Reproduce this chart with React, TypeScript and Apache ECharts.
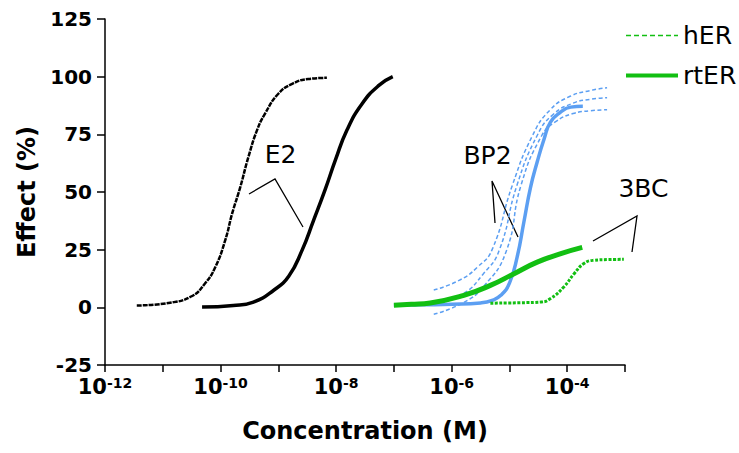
import React, { useEffect, useRef } from 'react';
import * as echarts from 'echarts';

// x values are log10 of the concentration (M); y values are effect (%)
const xMinExp = -12;
const xMaxExp = -3;
const yTicks = [-25, 0, 25, 50, 75, 100, 125];

const e2_hER: [number, number][] = [
  [-11.45, 0.8], [-10.9, 1.9], [-10.5, 4.8], [-10.27, 10.3], [-10.09, 17.5], [-9.92, 29],
  [-9.8, 40.6], [-9.66, 52], [-9.52, 65], [-9.37, 76.7], [-9.23, 84], [-9.0, 92.6],
  [-8.76, 96.9], [-8.48, 99], [-8.16, 99.5],
];
const e2_rtER: [number, number][] = [
  [-10.32, 0.1], [-9.78, 0.8], [-9.43, 2.3], [-9.08, 7.4], [-8.82, 13.5], [-8.59, 24.7],
  [-8.39, 37.7], [-8.19, 51], [-8.01, 64], [-7.81, 77], [-7.55, 88.3], [-7.26, 96.2], [-7.02, 100],
];
const bp2_hER_up: [number, number][] = [
  [-6.31, 7.5], [-5.87, 11.7], [-5.55, 17.5], [-5.3, 25], [-4.95, 52.9], [-4.6, 74.5],
  [-4.3, 85.5], [-3.95, 91.5], [-3.6, 94], [-3.31, 95.2],
];
const bp2_hER_mid: [number, number][] = [
  [-6.31, 1], [-5.8, 5.9], [-5.45, 14.6], [-5.18, 24.5], [-4.87, 52.9], [-4.52, 74.5],
  [-4.25, 83.5], [-3.9, 88.5], [-3.6, 90.2], [-3.31, 90.9],
];
const bp2_hER_low: [number, number][] = [
  [-6.31, -3], [-5.8, 2], [-5.45, 9], [-5.06, 24], [-4.8, 52.9], [-4.44, 74.5],
  [-4.2, 80.5], [-3.9, 84], [-3.6, 85.2], [-3.31, 85.7],
];
const bp2_rtER: [number, number][] = [
  [-7.0, 0.9], [-6.5, 1.1], [-6.0, 1.3], [-5.5, 1.9], [-5.3, 3.0], [-5.15, 5.2], [-5.0, 10.5],
  [-4.865, 22], [-4.75, 37], [-4.635, 52], [-4.52, 63], [-4.4, 73], [-4.29, 80.3], [-4.115, 84.6],
  [-3.94, 86.8], [-3.73, 87.2],
];
const bc3_rtER: [number, number][] = [
  [-7.0, 0.9], [-6.7, 1.3], [-6.37, 1.9], [-5.79, 5.2], [-5.33, 9.5], [-4.92, 14.6],
  [-4.52, 19.6], [-4.11, 23.3], [-3.74, 26],
];
const bc3_hER: [number, number][] = [
  [-5.33, 1.8], [-4.8, 2.0], [-4.45, 2.3], [-4.29, 3.8], [-4.06, 8.8], [-3.88, 14.6],
  [-3.71, 19], [-3.54, 20.4], [-3.3, 20.7], [-3.02, 20.8],
];

const FONT = 'DejaVu Sans, Liberation Sans, Arial, sans-serif';
const BLACK = '#000000';
const BLUE = '#5c9ff2';
const GREEN = '#12bf12';

function line(name: string, data: [number, number][], color: string, width: number, type: any) {
  return {
    type: 'line',
    name,
    data,
    smooth: 0.5,
    symbol: 'none',
    showSymbol: false,
    silent: true,
    lineStyle: { color, width, type, cap: 'butt', join: 'round' },
    itemStyle: { color },
  };
}

export default function App() {
  const ref = useRef<HTMLDivElement>(null);
  useEffect(() => {
    const chart = echarts.init(ref.current!, null, { renderer: 'svg' });
    chart.setOption({
      animation: false,
      backgroundColor: '#ffffff',
      grid: { left: 105, right: 114, top: 19, bottom: 88, containLabel: false },
      legend: {
        orient: 'vertical',
        left: 619,
        top: 18,
        itemWidth: 52,
        itemHeight: 14,
        itemGap: 15,
        selectedMode: false,
        textStyle: { fontSize: 25, fontFamily: FONT, color: BLACK },
        data: [
          { name: 'hER', itemStyle: { opacity: 0 }, lineStyle: { width: 1.5, type: [5, 3] } },
          { name: 'rtER', itemStyle: { opacity: 0 }, lineStyle: { width: 4, type: 'solid' } },
        ],
      },
      xAxis: {
        type: 'value',
        min: xMinExp,
        max: xMaxExp,
        interval: 1,
        name: 'Concentration (M)',
        nameLocation: 'middle',
        nameGap: 54,
        nameTextStyle: { fontSize: 24, fontWeight: 'bold', fontFamily: FONT, color: BLACK },
        axisLine: { show: true, onZero: false, lineStyle: { color: BLACK, width: 1.5 } },
        axisTick: { show: true, inside: false, length: 7, lineStyle: { color: BLACK, width: 1.5 } },
        splitLine: { show: false },
        axisLabel: {
          margin: 11,
          color: BLACK,
          formatter: (v: number) => {
            const e = Math.round(v);
            return e % 2 === 0 ? `{b|10}{s|${e}}` : '';
          },
          rich: {
            b: { fontSize: 21, fontWeight: 'bold', fontFamily: FONT, color: BLACK },
            s: { fontSize: 14, fontWeight: 'bold', fontFamily: FONT, color: BLACK, verticalAlign: 'top' },
          },
        },
      },
      yAxis: {
        type: 'value',
        min: yTicks[0],
        max: yTicks[yTicks.length - 1],
        interval: 25,
        name: 'Effect (%)',
        nameLocation: 'middle',
        nameGap: 60,
        nameRotate: 90,
        nameTextStyle: { fontSize: 24, fontWeight: 'bold', fontFamily: FONT, color: BLACK },
        axisLine: { show: true, onZero: false, lineStyle: { color: BLACK, width: 1.5 } },
        axisTick: { show: true, inside: false, length: 8, lineStyle: { color: BLACK, width: 1.5 } },
        splitLine: { show: false },
        axisLabel: { margin: 13, fontSize: 20, fontWeight: 'bold', fontFamily: FONT, color: BLACK },
      },
      series: [
        line('E2 hER', e2_hER, BLACK, 2.5, [5, 1]),
        line('E2 rtER', e2_rtER, BLACK, 3.5, 'solid'),
        line('BP2 hER upper', bp2_hER_up, BLUE, 1.5, [4, 2.5]),
        line('BP2 hER', bp2_hER_mid, BLUE, 1.5, [4, 2.5]),
        line('BP2 hER lower', bp2_hER_low, BLUE, 1.5, [4, 2.5]),
        line('BP2 rtER', bp2_rtER, BLUE, 3.5, 'solid'),
        line('rtER', bc3_rtER, GREEN, 5, 'solid'),
        line('hER', bc3_hER, GREEN, 3, [3, 1.5]),
      ],
      graphic: [
        { type: 'text', x: 280.5, y: 154, style: { text: 'E2', fontSize: 25, fontFamily: FONT, fill: BLACK, textAlign: 'center', textVerticalAlign: 'middle' } },
        { type: 'text', x: 487.5, y: 155, style: { text: 'BP2', fontSize: 25, fontFamily: FONT, fill: BLACK, textAlign: 'center', textVerticalAlign: 'middle' } },
        { type: 'text', x: 643.5, y: 188.5, style: { text: '3BC', fontSize: 25, fontFamily: FONT, fill: BLACK, textAlign: 'center', textVerticalAlign: 'middle' } },
        { type: 'polyline', shape: { points: [[249, 194], [275, 179], [303, 227]] }, style: { stroke: BLACK, lineWidth: 1.3, fill: 'none' } },
        { type: 'polyline', shape: { points: [[495, 223], [492, 181], [518, 237]] }, style: { stroke: BLACK, lineWidth: 1.3, fill: 'none' } },
        { type: 'polyline', shape: { points: [[593, 241], [637, 216], [632, 252]] }, style: { stroke: BLACK, lineWidth: 1.3, fill: 'none' } },
      ],
    });
    return () => chart.dispose();
  }, []);
  return (
    <div
      ref={ref}
      style={{ position: 'fixed', left: 0, top: 0, width: 739, height: 453, background: '#fff' }}
    />
  );
}
